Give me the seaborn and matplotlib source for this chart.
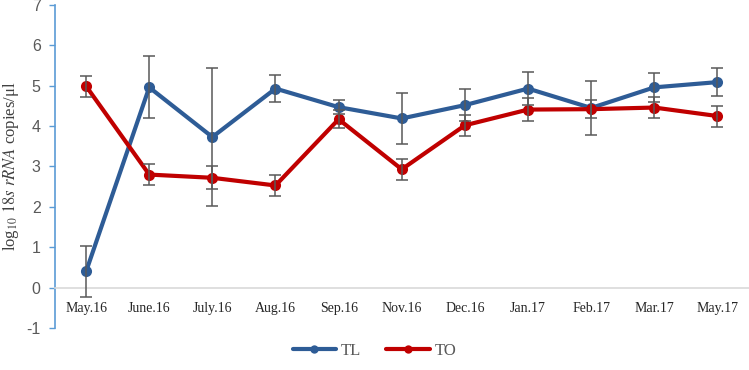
import numpy as np
import pandas as pd
import matplotlib
matplotlib.use("Agg")
import matplotlib.pyplot as plt
import seaborn as sns

# Data
months = ["May.16", "June.16", "July.16", "Aug.16", "Sep.16", "Nov.16",
          "Dec.16", "Jan.17", "Feb.17", "Mar.17", "May.17"]
tl_mean = [0.40, 4.96, 3.73, 4.93, 4.47, 4.19, 4.52, 4.93, 4.45, 4.96, 5.09]
tl_err = [0.63, 0.77, 1.72, 0.33, 0.17, 0.64, 0.40, 0.41, 0.66, 0.36, 0.35]
to_mean = [4.99, 2.80, 2.72, 2.53, 4.17, 2.93, 4.02, 4.41, 4.42, 4.46, 4.25]
to_err = [0.26, 0.26, 0.28, 0.26, 0.22, 0.26, 0.26, 0.28, 0.22, 0.25, 0.26]

series = ["TL", "TO"]
colors = {"TL": "#2E5C96", "TO": "#C00000"}

df = pd.DataFrame({
    "pos": list(range(len(months))) * 2,
    "value": tl_mean + to_mean,
    "err": tl_err + to_err,
    "site": ["TL"] * len(months) + ["TO"] * len(months),
})

sns.set_style("white")
plt.rcParams["font.family"] = ["Liberation Serif", "DejaVu Serif"]
plt.rcParams["mathtext.fontset"] = "stix"
plt.rcParams["axes.unicode_minus"] = False

fig = plt.figure(figsize=(7.49, 3.70), dpi=100)
ax = fig.add_axes([0.0728, 0.1135, 0.9272, 0.873])

# error bars drawn over the other line, like the original
for name in series:
    sub = df[df["site"] == name]
    ax.errorbar(sub["pos"], sub["value"], yerr=sub["err"], fmt="none",
                ecolor="#595959", elinewidth=1.1, capsize=4, capthick=1.1,
                zorder=4)

sns.lineplot(data=df, x="pos", y="value", hue="site", hue_order=series,
             palette=colors, marker="o", markersize=8, markeredgewidth=0,
             linewidth=3, ax=ax, zorder=3)

ax.set_xlim(-0.5, len(months) - 0.5)
ax.set_ylim(-1, 7)
ax.set_yticks(range(-1, 8))
ax.set_xticks(range(len(months)))
ax.set_xticklabels(months, fontsize=12.5, color="#595959")
for lab in ax.get_yticklabels():
    lab.set_fontfamily("Liberation Sans")
    lab.set_fontsize(11.5)
    lab.set_color("#595959")

ax.spines["bottom"].set_position(("data", 0))
ax.spines["bottom"].set_color("#D9D9D9")
ax.spines["bottom"].set_linewidth(1.2)
ax.spines["left"].set_color("#5B9BD5")
ax.spines["left"].set_linewidth(1.2)
ax.spines["top"].set_visible(False)
ax.spines["right"].set_visible(False)
ax.tick_params(axis="x", length=0, pad=10)
ax.tick_params(axis="y", length=4, width=1, color="#5B9BD5", left=True, pad=6)

ax.set_xlabel("")
ax.set_ylabel(r"log$_{10}$ $\mathit{18s\ rRNA}$ copies/μl", fontsize=12,
              color="#404040", labelpad=4)

handles, labels = ax.get_legend_handles_labels()
for h in handles:
    h.set_markersize(6)
ax.legend_.remove()
fig.legend(handles, labels, loc="center", bbox_to_anchor=(0.5, 0.052),
           ncol=2, frameon=False, fontsize=12, handlelength=2.6,
           columnspacing=1.5, handletextpad=0.3, labelcolor="#595959")

fig.savefig("out.png", dpi=100)
